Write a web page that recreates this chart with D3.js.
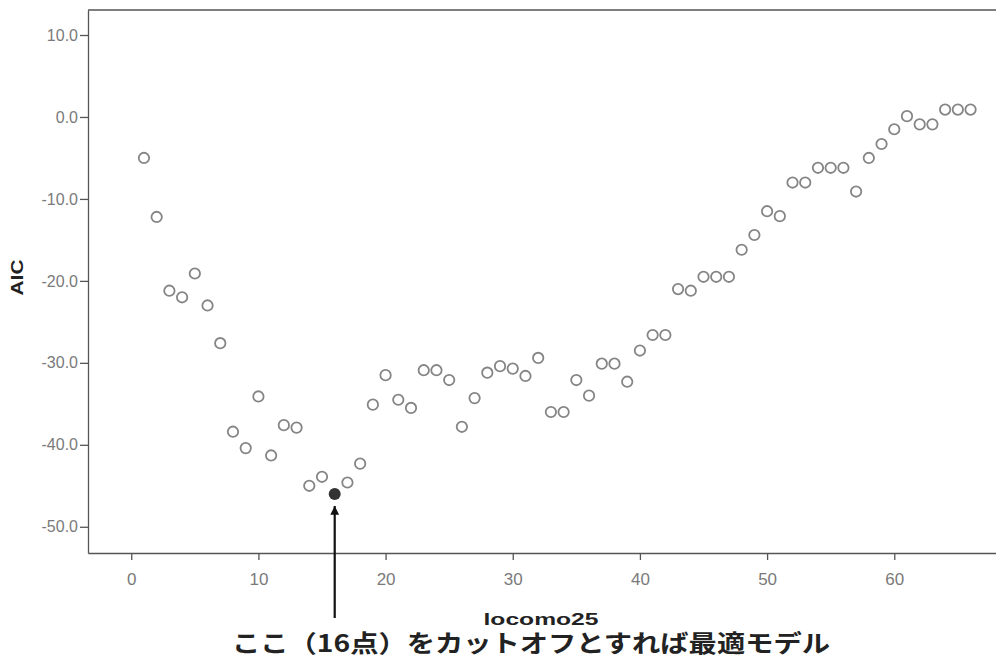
<!DOCTYPE html>
<html>
<head>
<meta charset="utf-8">
<script src="https://cdn.jsdelivr.net/npm/d3@7"></script>
<style>
  html,body{margin:0;padding:0;background:#fff;}
  svg{display:block;}
</style>
</head>
<body>
<div id="chart"></div>
<script>
/* data */
const xValues   = d3.range(1, 67);   // locomo25 cut-off 1..66
const aicValues = [
  -5.0, -12.2, -21.2, -22.0, -19.1, -23.0, -27.6, -38.4, -40.4, -34.1,
  -41.3, -37.6, -37.9, -45.0, -43.9, -46.0, -44.6, -42.3, -35.1, -31.5,
  -34.5, -35.5, -30.9, -30.9, -32.1, -37.8, -34.3, -31.2, -30.4, -30.7,
  -31.6, -29.4, -36.0, -36.0, -32.1, -34.0, -30.1, -30.1, -32.3, -28.5,
  -26.6, -26.6, -21.0, -21.2, -19.5, -19.5, -19.5, -16.2, -14.4, -11.5,
  -12.1, -8.0, -8.0, -6.2, -6.2, -6.2, -9.1, -5.0, -3.3, -1.5,
  0.1, -0.9, -0.9, 0.9, 0.9, 0.9
];
const bestX      = 16;
const yTicks     = [10, 0, -10, -20, -30, -40, -50];
const xTicks     = [0, 10, 20, 30, 40, 50, 60];
const xTitle     = 'locomo25';
const yTitle     = 'AIC';
const noteText   = 'ここ（16点）をカットオフとすれば最適モデル';

const WIDTH = 996, HEIGHT = 658;
const MARGIN = {top:10, right:0, bottom:105, left:88};

const svg = d3.select('#chart').append('svg')
  .attr('width', WIDTH).attr('height', HEIGHT);

const x = d3.scaleLinear().domain([-3.4, 68.0])
  .range([MARGIN.left, WIDTH - MARGIN.right]);
const y = d3.scaleLinear().domain([-53.2, 13.05])
  .range([HEIGHT - MARGIN.bottom, MARGIN.top]);

const pts = xValues.map((v,i)=>({x:v, y:aicValues[i]}));

// frame (top line; left/bottom come from axes)
svg.append('line')
  .attr('x1', MARGIN.left).attr('x2', WIDTH)
  .attr('y1', MARGIN.top).attr('y2', MARGIN.top)
  .attr('stroke', '#555').attr('stroke-width', 1.3);

// axes
const fmt = d => d.toFixed(1);
const yAxis = svg.append('g')
  .attr('transform', `translate(${MARGIN.left},0)`)
  .call(d3.axisLeft(y).tickValues(yTicks).tickFormat(fmt).tickSize(8).tickSizeOuter(0));
const xAxis = svg.append('g')
  .attr('transform', `translate(0,${HEIGHT - MARGIN.bottom})`)
  .call(d3.axisBottom(x).tickValues(xTicks).tickFormat(d3.format('d')).tickSize(7).tickSizeOuter(0));

[yAxis, xAxis].forEach(g=>{
  g.select('.domain').attr('stroke', '#555').attr('stroke-width', 1.3);
  g.selectAll('.tick line').attr('stroke', '#555').attr('stroke-width', 1.3);
  g.selectAll('.tick text')
   .attr('fill', '#7a7a7a')
   .style('font-family', '"Liberation Sans", Arial, sans-serif')
   .style('font-size', '16px');
});
yAxis.selectAll('.tick text').attr('x', -10);
xAxis.selectAll('.tick text').attr('y', 20).style('font-size', '17px');

// the points
svg.selectAll('.pt')
  .data(pts.filter(d=>d.x !== bestX))
  .enter().append('circle')
  .attr('class', 'pt')
  .attr('cx', d=>x(d.x))
  .attr('cy', d=>y(d.y))
  .attr('r', 5.2)
  .attr('fill', 'none')
  .attr('stroke', '#858585')
  .attr('stroke-width', 1.8);

const best = pts.find(d=>d.x === bestX);
svg.append('circle')
  .attr('cx', x(best.x)).attr('cy', y(best.y))
  .attr('r', 6)
  .attr('fill', '#333');

// arrow to the best model
svg.append('defs').append('marker')
  .attr('id', 'head')
  .attr('viewBox', '0 0 10 10')
  .attr('refX', 10).attr('refY', 5)
  .attr('markerWidth', 4).attr('markerHeight', 4)
  .attr('orient', 'auto')
  .append('path').attr('d', 'M0,0 L10,5 L0,10 Z').attr('fill', '#111');

svg.append('line')
  .attr('x1', x(best.x)).attr('x2', x(best.x))
  .attr('y1', 618).attr('y2', y(best.y) + 12)
  .attr('stroke', '#111').attr('stroke-width', 2.2)
  .attr('marker-end', 'url(#head)');

// titles
const plotMidX = (MARGIN.left + WIDTH) / 2;
svg.append('text')
  .attr('transform', `translate(23,${(MARGIN.top + HEIGHT - MARGIN.bottom)/2 - 4}) rotate(-90)`)
  .attr('text-anchor', 'middle')
  .attr('textLength', 36).attr('lengthAdjust', 'spacingAndGlyphs')
  .style('font-family', '"Liberation Sans", Arial, sans-serif')
  .style('font-weight', 'bold')
  .style('font-size', '16px')
  .attr('fill', '#222')
  .text(yTitle);

svg.append('text')
  .attr('x', plotMidX - 1).attr('y', 625)
  .attr('text-anchor', 'middle')
  .attr('textLength', 115).attr('lengthAdjust', 'spacingAndGlyphs')
  .style('font-family', '"Liberation Sans", Arial, sans-serif')
  .style('font-weight', 'bold')
  .style('font-size', '17px')
  .attr('fill', '#222')
  .text(xTitle);

svg.append('text')
  .attr('x', 531).attr('y', 652)
  .attr('text-anchor', 'middle')
  .attr('textLength', 598).attr('lengthAdjust', 'spacingAndGlyphs')
  .style('font-family', '"Noto Sans CJK JP", sans-serif')
  .style('font-weight', 'bold')
  .style('font-size', '24px')
  .attr('fill', '#222')
  .text(noteText);
</script>
</body>
</html>
